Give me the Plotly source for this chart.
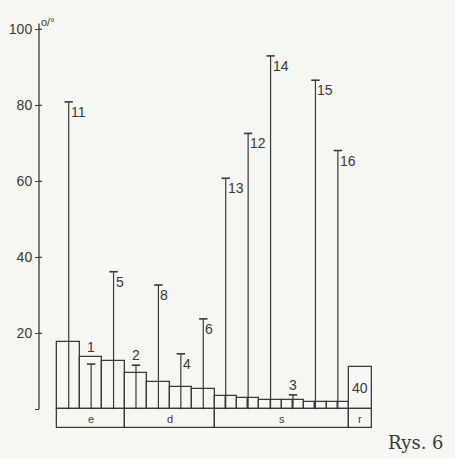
import plotly.graph_objects as go

# ---------------- data ----------------
group_labels = ["e", "d", "s", "r"]
group_slots = [3, 4, 6, 1]              # number of slots per group

main_bars = [17.8, 13.8, 12.8, 9.6, 7.3, 5.8, 5.3]          # groups e, d (one per slot)
s_bars = [3.5, 3.5, 2.9, 2.9, 2.5, 2.5, 2.5, 2.5, 2.0, 2.0, 2.0, 2.0]  # group s (two per slot)
r_bar = 11.2
r_label = "40"

line_labels = ["11", "1", "5", "2", "8", "4", "6", "13", "12", "14", "3", "15", "16"]
line_values = [80.9, 11.9, 36.2, 11.6, 32.7, 14.6, 23.8, 60.8, 72.6, 93.0, 3.8, 86.6, 68.1]

tick_vals = [0, 20, 40, 60, 80, 100]
tick_text = ["", "20", "40", "60", "80", "100"]
caption = "Rys. 6"
unit_label = "o/°"

# ---------------- geometry / style ----------------
W, H = 455, 459
INK = "#3a3a3a"
BG = "#f6f6f2"
PX_SLOT = 22.43
SLOT0_PX = 68.7
ZERO_PX = 409.3
PX_UNIT = 3.8
x_range = [-SLOT0_PX / PX_SLOT, (W - SLOT0_PX) / PX_SLOT]
y_range = [-(H - ZERO_PX) / PX_UNIT, ZERO_PX / PX_UNIT]
AXIS_PX = 39
band_depth = 18.4 / PX_UNIT

def xp(px):
    return px / W

def yp(px):
    return 1 - px / H

fig = go.Figure()

# bars (outlined)
bx, bw, by = [], [], []
n_ed = group_slots[0] + group_slots[1]
for i, v in enumerate(main_bars):
    bx.append(i); bw.append(1.0); by.append(v)
for j, v in enumerate(s_bars):
    slot = n_ed + j // 2
    bx.append(slot - 0.25 + 0.5 * (j % 2)); bw.append(0.5); by.append(v)
r_slot = n_ed + group_slots[2]
bx.append(r_slot); bw.append(1.0); by.append(r_bar)

fig.add_trace(go.Bar(x=bx, y=by, width=bw, base=0,
                     marker=dict(color="rgba(0,0,0,0)", line=dict(color=INK, width=1.3)),
                     hoverinfo="skip", showlegend=False))

# category band
cx, cw = [], []
start = -0.5
for n in group_slots:
    cx.append(start + n / 2); cw.append(n); start += n
fig.add_trace(go.Bar(x=cx, y=[band_depth] * len(cx), width=cw, base=-band_depth,
                     marker=dict(color="rgba(0,0,0,0)", line=dict(color=INK, width=1.3)),
                     hoverinfo="skip", showlegend=False))

# vertical lines with T caps
lx, ly = [], []
for i, v in enumerate(line_values):
    lx += [i, i, None]; ly += [0, v, None]
fig.add_trace(go.Scatter(x=lx, y=ly, mode="lines", line=dict(color=INK, width=1.2),
                         hoverinfo="skip", showlegend=False))
fig.add_trace(go.Scatter(x=list(range(len(line_values))), y=line_values, mode="markers",
                         marker=dict(symbol="line-ew", size=6, line=dict(color=INK, width=1.6)),
                         hoverinfo="skip", showlegend=False))

def bar_under(slot):
    if slot < n_ed:
        return main_bars[slot]
    k = (slot - n_ed) * 2
    return max(s_bars[k], s_bars[k + 1])

LABEL_FONT = dict(family="Liberation Sans Narrow, Liberation Sans", size=14, color=INK)
ann = []
for i, (lab, v) in enumerate(zip(line_labels, line_values)):
    top = bar_under(i)
    if v - top < 4:
        ann.append(dict(x=i, y=max(v, top), xref="x", yref="y", text=lab, showarrow=False,
                        xanchor="center", yanchor="bottom", yshift=0, font=LABEL_FONT))
    else:
        ann.append(dict(x=i, y=v, xref="x", yref="y", text=lab, showarrow=False,
                        xanchor="left", yanchor="top", xshift=0, yshift=0, font=LABEL_FONT))

# r bar label
ann.append(dict(x=r_slot, y=r_bar / 2, xref="x", yref="y", text=r_label, showarrow=False,
                font=dict(family="Liberation Sans", size=14, color=INK)))
# group labels
for x, lab in zip(cx, group_labels):
    ann.append(dict(x=x, y=-band_depth / 2, xref="x", yref="y", text=lab, showarrow=False,
                    font=dict(family="Liberation Sans", size=11, color=INK)))
# unit and caption
ann.append(dict(x=xp(AXIS_PX), y=yp(14), xref="paper", yref="paper", text=unit_label,
                showarrow=False, font=dict(family="Liberation Sans", size=11, color=INK)))
ann.append(dict(x=xp(446), y=yp(455), xref="paper", yref="paper", text=caption,
                xanchor="right", yanchor="bottom", showarrow=False,
                font=dict(family="DejaVu Serif", size=18, color=INK)))

shapes = [dict(type="line", xref="paper", yref="y", x0=xp(AXIS_PX), x1=xp(AXIS_PX),
               y0=0, y1=101.5, line=dict(color=INK, width=1.3))]
for t in tick_vals[1:]:
    shapes.append(dict(type="line", xref="paper", yref="y", x0=xp(AXIS_PX), x1=xp(AXIS_PX + 3),
                       y0=t, y1=t, line=dict(color=INK, width=1.2)))

fig.update_layout(
    width=W, height=H, margin=dict(l=0, r=0, t=0, b=0),
    paper_bgcolor=BG, plot_bgcolor=BG, barmode="overlay", bargap=0,
    xaxis=dict(range=x_range, visible=False, fixedrange=True),
    yaxis=dict(range=y_range, anchor="free", position=xp(AXIS_PX), showgrid=False,
               zeroline=False, showline=False, ticks="outside", ticklen=4, tickwidth=1.2,
               tickcolor=INK, tickvals=tick_vals, ticktext=tick_text, ticklabelstandoff=0,
               tickfont=dict(family="Liberation Sans", size=14, color=INK)),
    annotations=ann, shapes=shapes, showlegend=False,
)

fig.write_html("out.html")
